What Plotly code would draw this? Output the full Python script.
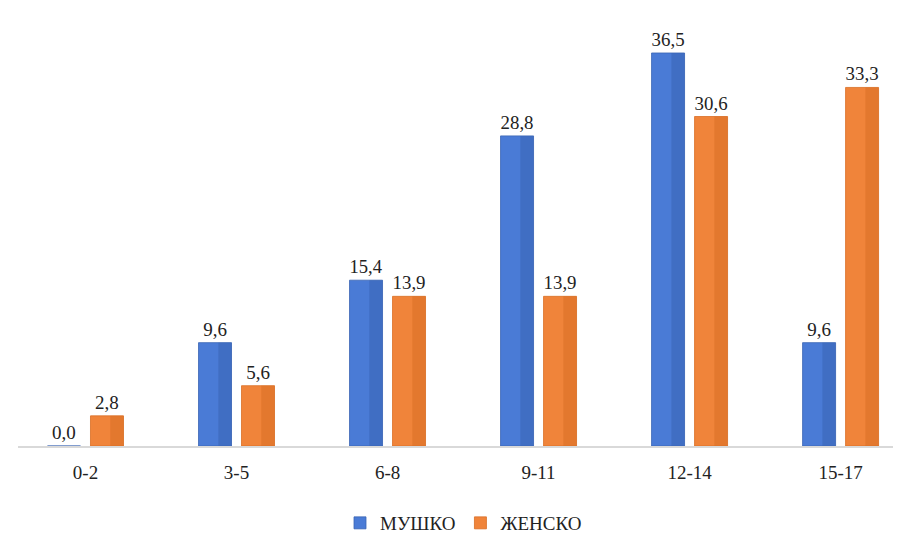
import plotly.graph_objects as go

categories = ["0-2", "3-5", "6-8", "9-11", "12-14", "15-17"]
male = [0.0, 9.6, 15.4, 28.8, 36.5, 9.6]
female = [2.8, 5.6, 13.9, 13.9, 30.6, 33.3]
series_names = ["МУШКО", "ЖЕНСКО"]

BLUE = "#4a7bd6"
BLUE_DARK = "#3a64b4"
ORANGE = "#f0843a"
ORANGE_DARK = "#d96f25"
FONT = "Liberation Serif"

bw = 0.2185
fig = go.Figure()
fig.add_trace(go.Bar(x=categories, y=male, name=series_names[0], marker=dict(color=BLUE, line=dict(color=BLUE_DARK, width=0.8)),
                     width=bw, offset=-0.2517, texttemplate="%{y:.1f}", textposition="outside",
                     textfont=dict(family=FONT, size=19, color="#222222"), cliponaxis=False))
fig.add_trace(go.Bar(x=categories, y=female, name=series_names[1], marker=dict(color=ORANGE, line=dict(color=ORANGE_DARK, width=0.8)),
                     width=bw, offset=0.033, texttemplate="%{y:.1f}", textposition="outside",
                     textfont=dict(family=FONT, size=19, color="#222222"), cliponaxis=False))
fig.add_trace(go.Bar(x=categories, y=male, marker=dict(color=BLUE_DARK, line=dict(width=0)), opacity=0.55,
                     width=bw * 0.4, offset=-0.2517 + bw * 0.6, showlegend=False, hoverinfo="skip"))
fig.add_trace(go.Bar(x=categories, y=female, marker=dict(color=ORANGE_DARK, line=dict(width=0)), opacity=0.55,
                     width=bw * 0.4, offset=0.033 + bw * 0.6, showlegend=False, hoverinfo="skip"))

fig.update_layout(
    width=901, height=534,
    margin=dict(l=10, r=0, t=20, b=92),
    barmode="overlay",
    separators=", ",
    plot_bgcolor="white", paper_bgcolor="white",
    font=dict(family=FONT, size=19, color="#222222"),
    xaxis=dict(range=[-0.447, 5.453], showgrid=False, showline=True, linecolor="#d9d9d9", linewidth=1.5,
               ticks="", ticklabelstandoff=8, zeroline=False,
               tickfont=dict(family=FONT, size=19, color="#222222")),
    yaxis=dict(range=[0, 38.82], visible=False, showgrid=False, zeroline=False),
    legend=dict(orientation="h", x=0.5, xanchor="center", y=-0.14, yanchor="top",
                font=dict(family=FONT, size=19, color="#222222"), traceorder="normal"),
)
fig.write_html("out.html")
